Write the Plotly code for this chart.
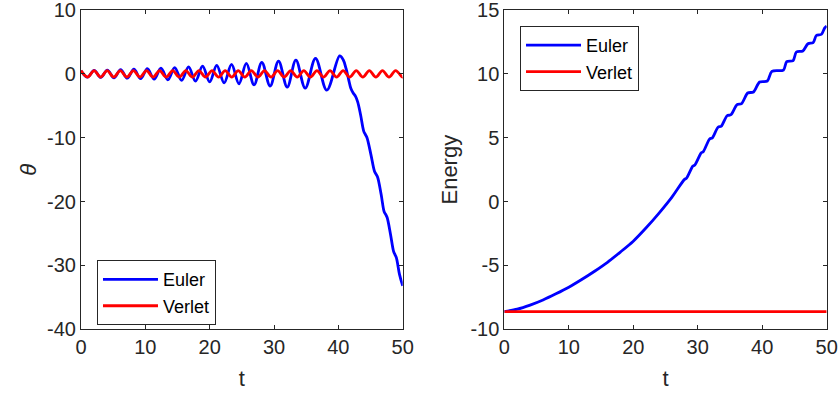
import plotly.graph_objects as go

# ---------------- data ----------------
# Left panel: theta(t)
euler_theta_t = [0, 1.02, 2.05, 3.07, 4.1, 5.13, 6.16, 7.2, 8.23, 9.27, 10.32, 11.37, 12.43,
                 13.5, 14.56, 15.64, 16.72, 17.8, 18.9, 20.0, 21.1, 22.25, 23.4, 24.55, 25.7,
                 26.9, 28.1, 29.4, 30.7, 32.05, 33.4, 34.85, 36.45, 38.2, 40.2,
                 40.75, 41.2, 41.6, 41.95, 42.3, 42.65, 43.0, 43.45, 43.95, 44.2, 44.45,
                 45.05, 45.6, 45.85, 46.1, 46.65, 47.12, 47.35, 47.58, 48.1, 48.58, 48.8,
                 49.02, 49.5, 50.0]
euler_theta = [0.5, -0.52, 0.54, -0.56, 0.59, -0.62, 0.65, -0.68, 0.72, -0.76, 0.8, -0.84, 0.89,
               -0.93, 0.98, -1.03, 1.08, -1.14, 1.2, -1.26, 1.33, -1.4, 1.47, -1.55, 1.63,
               -1.72, 1.81, -1.9, 1.99, -2.08, 2.15, -2.25, 2.42, -2.55, 2.8,
               2.2, 0.8, -0.9, -2.3, -3.0, -3.5, -4.4, -6.4, -9.0, -9.5, -10.0,
               -12.6, -15.2, -15.7, -16.2, -18.9, -21.6, -22.0, -22.5, -25.1, -27.8, -28.3,
               -28.8, -31.4, -33.2]

verlet_theta_t = [0, 1.02, 2.04, 3.06, 4.07, 5.09, 6.11, 7.13, 8.15, 9.17, 10.19, 11.2, 12.22,
                  13.24, 14.26, 15.28, 16.3, 17.31, 18.33, 19.35, 20.37, 21.39, 22.41, 23.43,
                  24.44, 25.46, 26.48, 27.5, 28.52, 29.54, 30.56, 31.57, 32.59, 33.61, 34.63,
                  35.65, 36.67, 37.69, 38.7, 39.72, 40.74, 41.76, 42.78, 43.8, 44.81, 45.83,
                  46.85, 47.87, 48.89, 49.91, 50.0]
verlet_theta = [0.5, -0.5, 0.5, -0.5, 0.5, -0.5, 0.5, -0.5, 0.5, -0.5, 0.5, -0.5, 0.5,
                -0.5, 0.5, -0.5, 0.5, -0.5, 0.5, -0.5, 0.5, -0.5, 0.5, -0.5,
                0.5, -0.5, 0.5, -0.5, 0.5, -0.5, 0.5, -0.5, 0.5, -0.5, 0.5,
                -0.5, 0.5, -0.5, 0.5, -0.5, 0.5, -0.5, 0.5, -0.5, 0.5, -0.5,
                0.5, -0.5, 0.5, -0.5, -0.49]

# Right panel: energy(t)
euler_energy_t = [0, 2, 4, 6, 8, 10, 12, 14, 16, 18, 20, 22, 24, 26,
                  27.95, 28.25, 29.25, 29.55, 30.55, 30.85, 31.85, 32.25,
                  33.15, 33.65, 34.55, 35.15, 36.1, 36.8, 37.75, 38.65, 39.6, 40.8,
                  41.5, 43.3, 43.8, 44.8, 45.3, 46.3, 47.1, 47.9, 48.4, 49.2, 49.7, 50.0]
euler_energy = [-8.61, -8.42, -8.1, -7.7, -7.22, -6.7, -6.1, -5.45, -4.75, -3.95, -3.1, -2.05,
                -0.9, 0.35,
                1.74, 1.82, 2.78, 2.86, 3.82, 3.9, 4.9, 4.98,
                5.82, 5.9, 6.72, 6.8, 7.59, 7.67, 8.5, 8.58, 9.36, 9.44,
                10.2, 10.3, 10.96, 11.04, 11.71, 11.79, 12.36, 12.44, 13.0, 13.1, 13.6, 13.75]

verlet_energy_t = [0, 50]
verlet_energy = [-8.61, -8.61]

# axis ticks
t_ticks = [0, 10, 20, 30, 40, 50]
t_tick_text = ["0", "10", "20", "30", "40", "50"]
theta_ticks = [-40, -30, -20, -10, 0, 10]
theta_tick_text = ["-40", "-30", "-20", "-10", "0", "10"]
energy_ticks = [-10, -5, 0, 5, 10, 15]
energy_tick_text = ["-10", "-5", "0", "5", "10", "15"]

series_names = ["Euler", "Verlet"]

# ---------------- figure ----------------
BLUE = "#0000FF"
RED = "#FF0000"
INK = "#262626"
FONT = "Liberation Sans, Arial, sans-serif"
LW = 2.8

fig = go.Figure()
fig.add_trace(go.Scatter(x=euler_theta_t, y=euler_theta, mode="lines", name=series_names[0],
                         line=dict(color=BLUE, width=LW, shape="spline", smoothing=1),
                         xaxis="x", yaxis="y", legend="legend"))
fig.add_trace(go.Scatter(x=verlet_theta_t, y=verlet_theta, mode="lines", name=series_names[1],
                         line=dict(color=RED, width=LW, shape="spline", smoothing=1),
                         xaxis="x", yaxis="y", legend="legend"))
fig.add_trace(go.Scatter(x=euler_energy_t, y=euler_energy, mode="lines", name=series_names[0],
                         line=dict(color=BLUE, width=LW, shape="spline", smoothing=0.8),
                         xaxis="x2", yaxis="y2", legend="legend2"))
fig.add_trace(go.Scatter(x=verlet_energy_t, y=verlet_energy, mode="lines", name=series_names[1],
                         line=dict(color=RED, width=LW),
                         xaxis="x2", yaxis="y2", legend="legend2"))

axis_common = dict(showline=True, linecolor=INK, linewidth=1, mirror="ticks",
                   ticks="inside", ticklen=4, tickcolor=INK, tickwidth=1,
                   showgrid=False, zeroline=False, automargin=False,
                   ticklabeloverflow="allow",
                   tickfont=dict(family=FONT, size=20, color=INK))

title_font = dict(family=FONT, size=22, color=INK)

legend_common = dict(bgcolor="white", bordercolor=INK, borderwidth=1,
                     font=dict(family=FONT, size=18, color="black"),
                     xanchor="left", yanchor="top", tracegroupgap=0, itemwidth=55)

fig.update_layout(
    width=839, height=393,
    margin=dict(l=0, r=0, t=0, b=0, autoexpand=False),
    paper_bgcolor="white", plot_bgcolor="white",
    showlegend=True,
    xaxis=dict(axis_common, domain=[0.0965, 0.48], range=[0, 50],
               tickvals=t_ticks, ticktext=t_tick_text, anchor="y",
               title=dict(text="t", standoff=13, font=title_font)),
    yaxis=dict(axis_common, domain=[0.162, 0.9746], range=[-40, 10],
               tickvals=theta_ticks, ticktext=theta_tick_text, anchor="x",
               title=dict(text="<i>θ</i>", standoff=4, font=title_font)),
    xaxis2=dict(axis_common, domain=[0.6011, 0.9853], range=[0, 50],
                tickvals=t_ticks, ticktext=t_tick_text, anchor="y2",
                title=dict(text="t", standoff=13, font=title_font)),
    yaxis2=dict(axis_common, domain=[0.162, 0.9746], range=[-10, 15],
                tickvals=energy_ticks, ticktext=energy_tick_text, anchor="x2",
                title=dict(text="Energy", standoff=6, font=title_font)),
    legend=dict(legend_common, x=0.1156, y=0.338),
    legend2=dict(legend_common, x=0.6198, y=0.934),
)

fig.write_html("out.html", config={"displayModeBar": False},
               post_script="document.body.style.margin='0';")
